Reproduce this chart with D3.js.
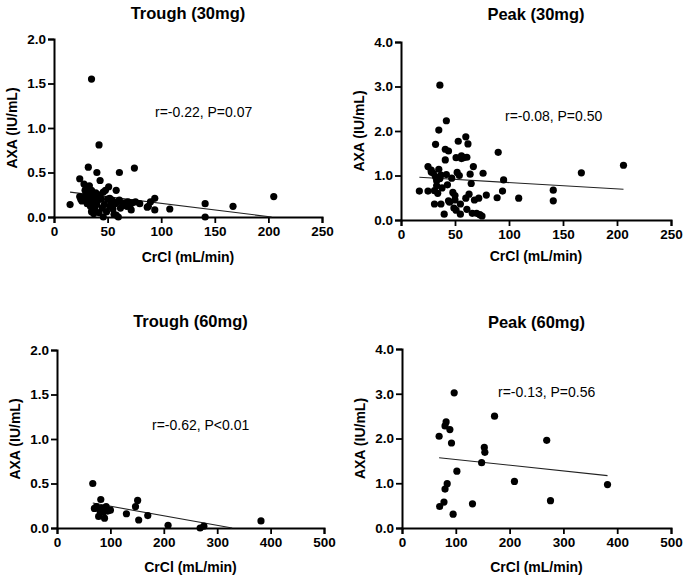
<!DOCTYPE html>
<html>
<head>
<meta charset="utf-8">
<script src="https://cdn.jsdelivr.net/npm/d3@7"></script>
<style>
  html, body { margin: 0; padding: 0; background: #fff; }
  svg { display: block; font-family: "Liberation Sans", Arial, Helvetica, sans-serif; }
</style>
</head>
<body>
<svg id="chart" width="685" height="578"></svg>
<script>
// ---------- DATA ----------
const panelTitles = ["Trough (30mg)", "Peak (30mg)", "Trough (60mg)", "Peak (60mg)"];
const annotations = ["r=-0.22, P=0.07", "r=-0.08, P=0.50", "r=-0.62, P<0.01", "r=-0.13, P=0.56"];
const xAxisLabel = "CrCl (mL/min)";
const yAxisLabel = "AXA (IU/mL)";

const xTicks30 = [0, 50, 100, 150, 200, 250];
const xTicks60 = [0, 100, 200, 300, 400, 500];
const yTicksTrough = [0, 0.5, 1.0, 1.5, 2.0];
const yTicksPeak = [0, 1.0, 2.0, 3.0, 4.0];

// [CrCl, AXA]
const trough30 = [
  [15,0.14],[24,0.43],[24,0.23],[25,0.20],[26,0.18],[27,0.19],[28,0.37],[28,0.22],[29,0.30],[30,0.32],
  [30,0.26],[31,0.21],[31,0.15],[32,0.56],[32,0.28],[33,0.35],[33,0.18],[34,0.24],[34,0.12],[35,1.55],
  [35,0.30],[35,0.06],[36,0.20],[36,0.15],[37,0.04],[37,0.17],[38,0.22],[38,0.10],[39,0.27],[40,0.50],
  [40,0.14],[41,0.19],[42,0.81],[42,0.05],[43,0.41],[43,0.25],[44,0.20],[45,0.10],[46,0.28],[46,0.00],
  [47,0.14],[48,0.30],[49,0.06],[50,0.20],[51,0.34],[52,0.12],[52,0.21],[53,0.17],[54,0.19],[55,0.09],
  [56,0.03],[57,0.15],[58,0.30],[58,0.02],[59,0.17],[60,0.00],[61,0.50],[61,0.19],[62,0.10],[64,0.13],
  [66,0.16],[68,0.12],[69,0.17],[71,0.14],[72,0.08],[73,0.16],[75,0.55],[76,0.17],[80,0.15],[87,0.11],
  [88,0.12],[90,0.17],[94,0.21],[94,0.08],[108,0.09],[141,0.15],[141,0.00],[167,0.12],[205,0.23]
];
const peak30 = [
  [17,0.65],[25,1.20],[25,0.65],[28,1.12],[28,1.08],[30,1.05],[31,0.66],[31,0.36],[32,1.70],[32,0.97],
  [33,0.77],[33,0.88],[34,0.60],[35,2.02],[35,1.14],[36,0.93],[36,3.03],[37,0.36],[37,1.01],[38,0.72],
  [40,0.13],[41,1.59],[41,1.35],[42,2.23],[42,1.02],[43,0.79],[44,1.55],[44,0.43],[45,0.40],[47,0.94],
  [48,0.62],[49,0.27],[50,0.55],[50,0.45],[51,0.22],[51,1.40],[52,1.07],[53,1.77],[54,1.00],[55,0.36],
  [55,0.13],[56,1.44],[56,1.38],[58,1.40],[60,1.87],[60,0.49],[61,1.41],[61,0.24],[62,1.71],[63,0.58],
  [64,1.03],[65,0.82],[66,0.15],[67,1.20],[68,0.45],[70,0.15],[72,0.49],[73,0.12],[75,0.09],[76,1.05],
  [79,0.56],[89,0.50],[90,1.52],[94,0.65],[95,0.90],[109,0.49],[141,0.67],[141,0.43],[167,1.06],[206,1.23]
];
const trough60 = [
  [67,0.50],[70,0.22],[74,0.24],[78,0.13],[80,0.20],[82,0.32],[84,0.22],[87,0.18],[89,0.11],[92,0.24],
  [95,0.19],[97,0.20],[100,0.20],[130,0.16],[147,0.24],[151,0.31],[153,0.09],[170,0.14],[208,0.03],
  [268,0.00],[275,0.02],[382,0.08]
];
const peak60 = [
  [69,2.05],[70,0.48],[78,0.58],[80,0.87],[80,2.28],[82,2.37],[84,0.99],[89,2.20],[92,1.90],[95,0.31],
  [97,3.02],[102,1.27],[131,0.54],[148,1.46],[153,1.80],[154,1.69],[172,2.50],[209,1.04],[269,1.96],
  [276,0.61],[382,0.97]
];

// regression line end points [x, y]
const fitTrough30 = [[15,0.28],[203,0.0]];
const fitPeak30 = [[17,0.96],[206,0.69]];
const fitTrough60 = [[67,0.28],[328,0.0]];
const fitPeak60 = [[69,1.57],[382,1.17]];

// ---------- LAYOUT ----------
const panels = [
  {data: trough30, fit: fitTrough30, xMax: 250, yMax: 2, xT: xTicks30, yT: yTicksTrough,
   x0: 54, x1: 322, yTop: 39, yBot: 217, titleY: 19, xlabY: 262, annX: 155, annY: 117},
  {data: peak30, fit: fitPeak30, xMax: 250, yMax: 4, xT: xTicks30, yT: yTicksPeak,
   x0: 401, x1: 671, yTop: 42, yBot: 220, titleY: 20, xlabY: 261, annX: 505, annY: 121},
  {data: trough60, fit: fitTrough60, xMax: 500, yMax: 2, xT: xTicks60, yT: yTicksTrough,
   x0: 57, x1: 324, yTop: 350, yBot: 528, titleY: 327, xlabY: 572, annX: 152, annY: 430},
  {data: peak60, fit: fitPeak60, xMax: 500, yMax: 4, xT: xTicks60, yT: yTicksPeak,
   x0: 402, x1: 671, yTop: 349, yBot: 528, titleY: 328, xlabY: 572, annX: 498, annY: 397}
];

const svg = d3.select("#chart");

panels.forEach((p, i) => {
  const x = d3.scaleLinear().domain([0, p.xMax]).range([p.x0, p.x1]);
  const y = d3.scaleLinear().domain([0, p.yMax]).range([p.yBot, p.yTop]);
  const g = svg.append("g");

  // axes
  const xAxis = d3.axisBottom(x).tickValues(p.xT).tickFormat(d3.format("d")).tickSizeOuter(0).tickSize(6).tickPadding(3);
  const yAxis = d3.axisLeft(y).tickValues(p.yT).tickFormat(d3.format(".1f")).tickSizeOuter(0).tickSize(6).tickPadding(2);

  const gx = g.append("g").attr("transform", `translate(0,${p.yBot})`).call(xAxis);
  const gy = g.append("g").attr("transform", `translate(${p.x0},0)`).call(yAxis);
  [gx, gy].forEach(a => {
    a.select(".domain").attr("stroke", "#000").attr("stroke-width", 2);
    a.selectAll(".tick line").attr("stroke", "#000").attr("stroke-width", 1.8);
    a.selectAll(".tick text").attr("fill", "#000").attr("font-size", 13.5).attr("font-weight", "bold")
      .attr("font-family", "'Liberation Sans', Arial, sans-serif");
  });

  // regression line
  g.append("path")
    .datum(p.fit)
    .attr("d", d3.line().x(d => x(d[0])).y(d => y(d[1])))
    .attr("fill", "none").attr("stroke", "#222").attr("stroke-width", 1.1);

  // points
  g.append("g").selectAll("circle").data(p.data).join("circle")
    .attr("cx", d => x(d[0])).attr("cy", d => y(d[1])).attr("r", 3.6).attr("fill", "#000");

  // title
  g.append("text").attr("x", (p.x0 + p.x1) / 2).attr("y", p.titleY)
    .attr("text-anchor", "middle").attr("font-size", 16.5).attr("font-weight", "bold").attr("fill", "#000")
    .text(panelTitles[i]);

  // x label
  g.append("text").attr("x", (p.x0 + p.x1) / 2).attr("y", p.xlabY)
    .attr("text-anchor", "middle").attr("font-size", 14).attr("font-weight", "bold").attr("fill", "#000")
    .text(xAxisLabel);

  // y label
  g.append("text")
    .attr("transform", `translate(${p.x0 - 37},${(p.yTop + p.yBot) / 2}) rotate(-90)`)
    .attr("text-anchor", "middle").attr("font-size", 14).attr("font-weight", "bold").attr("fill", "#000")
    .text(yAxisLabel);

  // annotation
  g.append("text").attr("x", p.annX).attr("y", p.annY)
    .attr("font-size", 14).attr("fill", "#000")
    .text(annotations[i]);
});
</script>
</body>
</html>
